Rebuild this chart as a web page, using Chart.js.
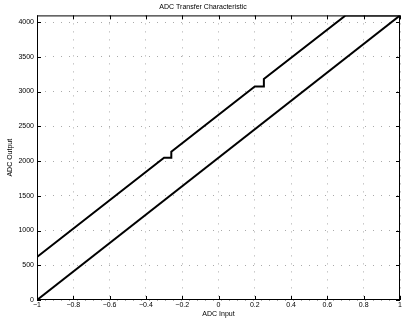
<!DOCTYPE html>
<html>
<head>
<meta charset="utf-8">
<script src="https://cdn.jsdelivr.net/npm/chart.js@4/dist/chart.umd.min.js"></script>
<style>
  html, body { margin: 0; padding: 0; background: #fff; }
  #wrap { width: 402px; height: 327px; }
</style>
</head>
<body>
<div id="wrap"><canvas id="c" width="402" height="327"></canvas></div>
<script>
// Ideal 12-bit transfer line
const idealInput = [-1, 1];
const idealOutput = [0, 4095];

// Converter with offset error and missing codes at 2048 and 3072
const realInput = [-1, -0.30, -0.26, -0.26, 0.20, 0.25, 0.25, 0.70, 1];
const realOutput = [620, 2048, 2048, 2135, 3072, 3072, 3180, 4095, 4095];

const xTicks = [-1, -0.8, -0.6, -0.4, -0.2, 0, 0.2, 0.4, 0.6, 0.8, 1];
const yTicks = [0, 500, 1000, 1500, 2000, 2500, 3000, 3500, 4000];

const toPoints = (xs, ys) => xs.map((x, i) => ({ x: x, y: ys[i] }));
const FONT = { family: '"Liberation Sans", Arial, sans-serif', size: 7, weight: 'normal' };

// Box around the axes with inward tick marks on all four sides
const framePlugin = {
  id: 'frame',
  afterDatasetsDraw(chart) {
    const { ctx, chartArea: a, scales } = chart;
    ctx.save();
    ctx.strokeStyle = '#000';
    ctx.lineWidth = 1;
    ctx.strokeRect(a.left + 0.5, a.top + 0.5, a.right - a.left - 1, a.bottom - a.top - 1);
    const len = 4;
    ctx.beginPath();
    xTicks.forEach(v => {
      const px = Math.round(scales.x.getPixelForValue(v)) + 0.5;
      ctx.moveTo(px, a.bottom); ctx.lineTo(px, a.bottom - len);
      ctx.moveTo(px, a.top); ctx.lineTo(px, a.top + len);
    });
    yTicks.forEach(v => {
      const py = Math.round(scales.y.getPixelForValue(v)) + 0.5;
      ctx.moveTo(a.left, py); ctx.lineTo(a.left + len, py);
      ctx.moveTo(a.right, py); ctx.lineTo(a.right - len, py);
    });
    ctx.stroke();
    ctx.restore();
  }
};

new Chart(document.getElementById('c'), {
  type: 'line',
  data: {
    datasets: [
      { data: toPoints(idealInput, idealOutput), borderColor: '#000', borderWidth: 2, pointRadius: 0, tension: 0, fill: false },
      { data: toPoints(realInput, realOutput), borderColor: '#000', borderWidth: 2, pointRadius: 0, tension: 0, fill: false }
    ]
  },
  options: {
    responsive: false,
    animation: false,
    devicePixelRatio: 1,
    layout: { padding: { left: 6, right: 2, top: 0, bottom: 9 } },
    plugins: {
      legend: { display: false },
      tooltip: { enabled: false },
      title: {
        display: true,
        text: 'ADC Transfer Characteristic',
        color: '#000',
        font: FONT,
        padding: { top: 3, bottom: 4 }
      }
    },
    scales: {
      x: {
        type: 'linear',
        min: -1, max: 1,
        afterBuildTicks(s) { s.ticks = xTicks.map(v => ({ value: v })); },
        afterFit(s) { s.height = 18; s.paddingLeft = 0; s.paddingRight = 0; },
        ticks: {
          color: '#000', font: FONT, padding: 1, maxRotation: 0, autoSkip: false,
          callback: v => (v < 0 ? '\u2212' : '') + String(Math.abs(Math.round(v * 10) / 10))
        },
        grid: { color: '#aaa', drawTicks: false, lineWidth: 1 },
        border: { display: false, dash: [1, 7] },
        title: { display: true, text: 'ADC Input', color: '#000', font: FONT, padding: { top: 0, bottom: 0 } }
      },
      y: {
        type: 'linear',
        min: 0, max: 4096,
        afterBuildTicks(s) { s.ticks = yTicks.map(v => ({ value: v })); },
        afterFit(s) { s.width = 31; s.paddingTop = 0; s.paddingBottom = 0; },
        ticks: { color: '#000', font: FONT, padding: 3, autoSkip: false, callback: v => String(v) },
        grid: { color: '#aaa', drawTicks: false, lineWidth: 1 },
        border: { display: false, dash: [1, 7] },
        title: { display: true, text: 'ADC Output', color: '#000', font: FONT, padding: { top: 0, bottom: 2 } }
      }
    }
  },
  plugins: [framePlugin]
});
</script>
</body>
</html>
